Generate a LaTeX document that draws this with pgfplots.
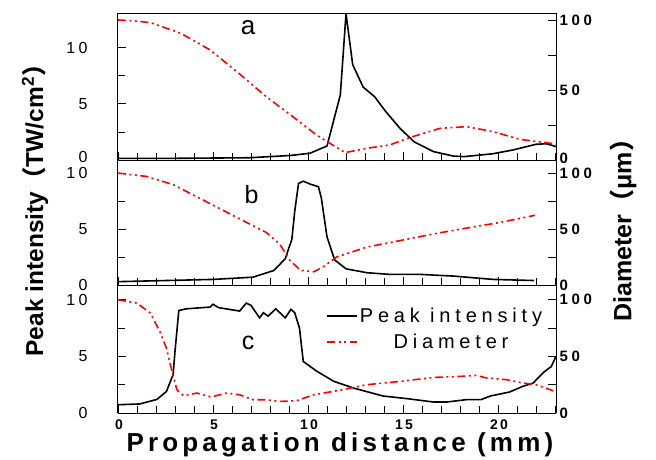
\documentclass[border=0pt]{standalone}
\usepackage{pgfplots}
\pgfplotsset{compat=1.18}
\usepackage{fontspec}
\setmainfont{Liberation Sans}
\newfontfamily\cjk{Noto Sans CJK SC}
\newfontfamily\lsL[LetterSpace=20]{Liberation Sans}
\newfontfamily\lsR[LetterSpace=25]{Liberation Sans}
\newfontfamily\lsX[LetterSpace=16]{Liberation Sans}
\newfontfamily\lsG[LetterSpace=24]{Liberation Sans}
\tikzset{
  blk/.style={black, line width=1.6pt},
  rd/.style={red, line width=1.6pt, dash pattern=on 8pt off 3.5pt on 2pt off 3.5pt on 2pt off 3.5pt},
}
\pgfplotsset{
  /pgf/number format/assume math mode=true,
  leftax/.style={
    scale only axis, width=438pt, xmin=0, xmax=23.05, ymin=0,
    axis y line*=left, tick align=inside,
    xtick={0,5,10,15,20}, minor xtick={1,2,3,4,6,7,8,9,11,12,13,14,16,17,18,19,21,22,23},
    xtick pos=left,
    ytick={0,5,10}, minor ytick={2.5,7.5},
    major tick length=8pt, minor tick length=7pt,
    every tick/.style={black, line width=0.8pt},
    axis line style={line width=1pt},
    yticklabel style={font=\lsL\fontsize{16}{18}\selectfont, xshift=-27pt},
    xticklabel style={font=\lsX\bfseries\fontsize{14}{16}\selectfont, yshift=-3pt, xshift=1pt},
    clip=false,
  },
  rightax/.style={
    scale only axis, width=438pt, xmin=0, xmax=23.05, ymin=0,
    axis y line*=right, axis x line=none, tick align=inside,
    ytick={0,50,100}, minor ytick={25,75},
    major tick length=8pt, minor tick length=8pt,
    every tick/.style={black, line width=0.8pt},
    axis line style={line width=1pt},
    yticklabel style={font=\lsR\bfseries\fontsize{15}{17}\selectfont},
    clip=false,
  },
}
\begin{document}
\begin{tikzpicture}
\useasboundingbox (-118pt,-46pt) rectangle (538pt,413pt);
% ---------------- panel c
\begin{axis}[leftax, at={(0pt,0pt)}, anchor=south west, height=128pt, ymax=11.3]
\addplot[blk, no marks] coordinates {(0,0.73)(1.15,0.8)(2.05,1.2)(2.55,1.9)(2.9,3.4)(3.0,5.45)(3.2,9.05)(3.6,9.2)(4.85,9.35)(5.0,9.6)(5.3,9.3)(6.4,9.0)(6.75,9.7)(7.0,9.5)(7.45,8.4)(7.65,8.85)(7.9,8.55)(8.3,9.2)(8.8,8.4)(9.1,9.15)(9.3,8.85)(9.55,7.5)(9.75,4.55)(10.45,3.7)(11.35,2.8)(12.4,2.2)(13.95,1.5)(15.2,1.27)(16.6,0.97)(17.3,0.97)(18.35,1.18)(19.1,1.18)(19.6,1.5)(20.6,1.85)(21.3,2.35)(21.85,2.65)(22.4,3.6)(22.8,4.1)(23.05,5.0)};
\node[font=\fontsize{25}{28}\selectfont] at (rel axis cs:0.297,0.55) {c};
\end{axis}
\begin{axis}[rightax, at={(0pt,0pt)}, anchor=south west, height=128pt, ymax=113,
  legend cell align=center,
  legend style={at={(rel axis cs:0.98,0.855)}, anchor=north east, draw=none, fill=none,
    font=\lsG\fontsize{20}{22}\selectfont, row sep=6pt},
  legend image code/.code={\draw[#1] (0pt,0pt) -- (30pt,0pt);}]
\addlegendimage{blk}
\addlegendentry{Peak intensity}
\addlegendimage{rd}
\addlegendentry{Diameter}
\addplot[rd, no marks, forget plot] coordinates {(0,100)(1.0,97)(1.7,88.2)(2.2,72)(2.55,57.3)(2.8,39.7)(3.1,20.5)(3.45,15.3)(4.15,17.6)(4.9,14.1)(5.7,17.6)(6.4,16.1)(7.1,11.7)(7.8,11.7)(8.5,10.2)(9.4,10.9)(10.3,16.1)(11.75,20.3)(13.1,25)(14.85,27.9)(16.6,31.4)(18.0,32.3)(18.85,33.2)(19.4,30.9)(20.45,29.4)(21.3,26.5)(22.0,25)(23.0,19)};
\end{axis}
% ---------------- panel b
\begin{axis}[leftax, at={(0pt,128pt)}, anchor=south west, height=125pt, ymax=11.2, xticklabels={}]
\addplot[blk, no marks] coordinates {(0,0.3)(5.0,0.5)(7.1,0.7)(8.2,1.3)(8.8,2.35)(9.15,4.1)(9.3,6.6)(9.5,9.1)(9.75,9.3)(10.1,9.05)(10.55,8.8)(10.7,7.8)(11.0,4.3)(11.4,2.25)(12.0,1.45)(13.1,1.1)(14.3,0.95)(15.9,0.95)(17.65,0.8)(19.75,0.5)(21.9,0.4)};
\node[font=\fontsize{25}{28}\selectfont] at (rel axis cs:0.305,0.72) {b};
\end{axis}
\begin{axis}[rightax, at={(0pt,128pt)}, anchor=south west, height=125pt, ymax=111.7]
\addplot[rd, no marks] coordinates {(0,100)(1.5,97)(2.9,89.7)(4.85,72.7)(6.6,57.3)(7.8,47)(8.5,36.8)(9.05,22)(9.6,13.2)(10.3,11.8)(10.8,16.2)(11.5,25)(13.1,33.9)(14.85,39.7)(16.6,45.6)(18.35,50.9)(20.1,55.9)(21.95,62.3)};
\end{axis}
% ---------------- panel a
\begin{axis}[leftax, at={(0pt,253pt)}, anchor=south west, height=147pt, ymax=13.1, xticklabels={},
  yticklabels={\raisebox{7pt}{0},5,10}]
\addplot[blk, no marks] coordinates {(0,0.15)(3,0.15)(6.9,0.2)(9.05,0.4)(10.1,0.6)(11.0,1.25)(11.7,5.8)(12.0,13.05)(12.35,8.5)(12.9,6.5)(13.5,5.65)(14.1,4.3)(14.85,2.8)(15.6,1.6)(16.6,0.75)(17.65,0.35)(18.2,0.3)(19.7,0.55)(20.8,0.9)(22.0,1.4)(22.55,1.45)(23.05,1.2)};
\node[font=\fontsize{26}{28}\selectfont] at (rel axis cs:0.297,0.9) {a};
\end{axis}
\begin{axis}[rightax, at={(0pt,253pt)}, anchor=south west, height=147pt, ymax=105.4,
  yticklabels={\raisebox{3pt}{0},50,100}]
\addplot[rd, no marks] coordinates {(0,100.4)(0.8,99.8)(1.7,98.5)(3.3,90.9)(4.85,78.9)(6.4,61.7)(7.8,45.4)(9.2,31.1)(10.45,17.9)(11.15,12)(11.95,5.3)(13.1,8.4)(14.3,10.8)(15.5,16.7)(16.95,22.7)(18.35,23.9)(19.75,20.3)(21.15,14.8)(23.05,11.5)};
\end{axis}
% ---------------- axis titles
\node[rotate=90, anchor=west, font=\bfseries\fontsize{24.5}{28}\selectfont] at (-83pt,53pt) {Peak intensity{\cjk （}TW/cm\textsuperscript{2}{\cjk ）}};
\node[rotate=90, anchor=west, font=\bfseries\fontsize{25}{28}\selectfont] at (505pt,88pt) {Diameter{\cjk （}μm{\cjk ）}};
\node[anchor=west, font=\lsX\bfseries\fontsize{26}{28}\selectfont] at (5pt,-32pt) {Propagation distance (mm)};
\end{tikzpicture}
\end{document}
